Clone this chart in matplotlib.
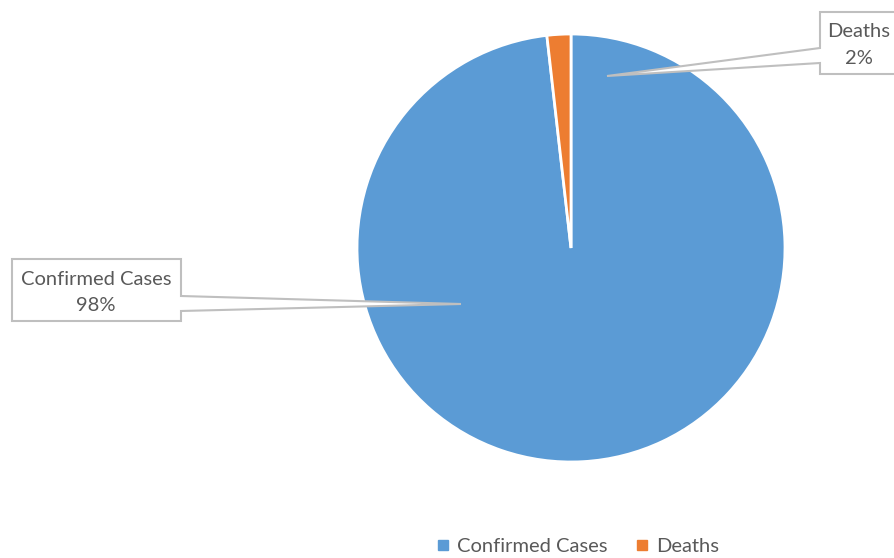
import matplotlib.pyplot as plt
from matplotlib.patches import Polygon
from matplotlib.lines import Line2D

labels = ['Confirmed Cases', 'Deaths']
values = [98.2, 1.8]
colors = ['#5B9BD5', '#ED7D31']

W, H = 895, 558
plt.rcParams['font.family'] = ['Lato', 'DejaVu Sans']
txt = '#595959'
edge = '#BFBFBF'

fig = plt.figure(figsize=(W / 100, H / 100), dpi=100)
ax = fig.add_axes([0, 0, 1, 1])

def py(y):
    # pixel row (from top) -> data y
    return H - y

ax.pie(values, colors=colors, startangle=90, counterclock=False,
       center=(571, py(248)), radius=214,
       wedgeprops=dict(edgecolor='white', linewidth=2))

pct = [v / sum(values) * 100 for v in values]

# callouts: box (left, top, right, bottom), pointer base (y1, y2) on side, tip
callouts = [
    dict(box=(12, 259, 181, 321), side='right', base=(296, 311), tip=(461, 304),
         tx=96, ty=(279, 305)),
    dict(box=(820, 12, 900, 74), side='left', base=(48, 63), tip=(607, 76),
         tx=859, ty=(31, 58)),
]
for lab, p, c in zip(labels, pct, callouts):
    l, t, r, b = c['box']
    y1, y2 = c['base']
    tx, ty = c['tip']
    if c['side'] == 'right':
        pts = [(l, t), (r, t), (r, y1), (tx, ty), (r, y2), (r, b), (l, b)]
    else:
        pts = [(l, t), (r, t), (r, b), (l, b), (l, y2), (tx, ty), (l, y1)]
    pts = [(x, py(y)) for x, y in pts]
    ax.add_patch(Polygon(pts, closed=True, facecolor='white', edgecolor=edge,
                         linewidth=1.5, zorder=5))
    ax.text(c['tx'], py(c['ty'][0]), lab, ha='center', va='center',
            fontsize=14.5, color=txt, zorder=6)
    ax.text(c['tx'], py(c['ty'][1]), '{:.0f}%'.format(p), ha='center', va='center',
            fontsize=14.5, color=txt, zorder=6)

handles = [Line2D([], [], marker='s', linestyle='none', markersize=7,
                  markerfacecolor=col, markeredgecolor=col) for col in colors]
ax.legend(handles, labels, loc='center', bbox_to_anchor=(576 / W, 1 - 546 / H),
          ncol=2, frameon=False, fontsize=14.5, labelcolor=txt,
          handletextpad=0.2, columnspacing=1.2, handlelength=1.0)

ax.set_xlim(0, W)
ax.set_ylim(0, H)
ax.set_aspect('equal')
ax.axis('off')
fig.savefig('out.png', dpi=100)
